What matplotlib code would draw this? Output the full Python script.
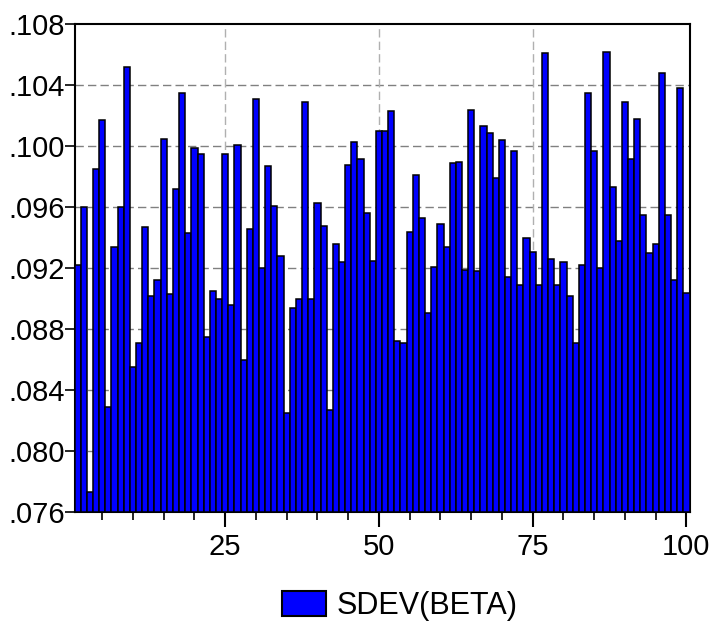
import matplotlib
matplotlib.use("Agg")
import matplotlib.pyplot as plt
from matplotlib.ticker import FixedLocator, FuncFormatter, MultipleLocator

plt.rcParams['font.family'] = ['Liberation Sans', 'DejaVu Sans']

obs = list(range(1, 101))
sdev_beta = [
    0.0922, 0.0960, 0.0773, 0.0985, 0.1017, 0.0829, 0.0934, 0.0960, 0.1052, 0.0855,
    0.0871, 0.0947, 0.0902, 0.0912, 0.1005, 0.0903, 0.0972, 0.1035, 0.0943, 0.0999,
    0.0995, 0.0875, 0.0905, 0.0900, 0.0995, 0.0896, 0.1001, 0.0860, 0.0946, 0.1031,
    0.0920, 0.0987, 0.0961, 0.0928, 0.0825, 0.0894, 0.0900, 0.1029, 0.0900, 0.0963,
    0.0948, 0.0827, 0.0936, 0.0924, 0.0988, 0.1003, 0.0992, 0.0956, 0.0925, 0.1010,
    0.1010, 0.1023, 0.0872, 0.0871, 0.0944, 0.0981, 0.0953, 0.0891, 0.0921, 0.0949,
    0.0934, 0.0989, 0.0990, 0.0919, 0.1024, 0.0918, 0.1013, 0.1009, 0.0979, 0.1004,
    0.0914, 0.0997, 0.0909, 0.0940, 0.0931, 0.0909, 0.1061, 0.0926, 0.0909, 0.0924,
    0.0902, 0.0871, 0.0922, 0.1035, 0.0997, 0.0920, 0.1062, 0.0973, 0.0938, 0.1029,
    0.0992, 0.1018, 0.0955, 0.0930, 0.0936, 0.1048, 0.0955, 0.0912, 0.1038, 0.0904,
]
y_ticks = [0.076, 0.080, 0.084, 0.088, 0.092, 0.096, 0.100, 0.104, 0.108]
x_major = [25, 50, 75, 100]
series_name = "SDEV(BETA)"

fig = plt.figure(figsize=(7.17, 6.26), dpi=100)
ax = fig.add_axes([74.5 / 717, 1 - 512.3 / 626, 615 / 717, 488 / 626])

base = y_ticks[0]
ax.bar(obs, [v - base for v in sdev_beta], bottom=base, width=1.0,
       color='#0000ff', edgecolor='black', linewidth=1.1, label=series_name,
       zorder=3)

ax.set_xlim(0.5, 100.5)
ax.set_ylim(y_ticks[0], y_ticks[-1])

ax.yaxis.set_major_locator(FixedLocator(y_ticks))
ax.yaxis.set_major_formatter(FuncFormatter(lambda v, p: f"{v:.3f}".lstrip('0')))
ax.xaxis.set_major_locator(FixedLocator(x_major))
ax.xaxis.set_minor_locator(MultipleLocator(5))

ax.tick_params(axis='y', which='major', direction='out', length=7, width=1.2,
               labelsize=21, pad=0)
ax.tick_params(axis='x', which='major', direction='out', length=11, width=1.5,
               labelsize=21, pad=4)
ax.tick_params(axis='x', which='minor', direction='out', length=6, width=1.2)

for s in ax.spines.values():
    s.set_linewidth(1.5)
    s.set_color('black')

for yv in y_ticks[1:-1]:
    ax.axhline(yv, color='#808080', linestyle=(0, (6, 3)), linewidth=1.0, zorder=1)
for xv in x_major[:-1]:
    ax.axvline(xv, color='#b0b0b0', linestyle=(0, (6, 3)), linewidth=1.0, zorder=1)

leg = fig.legend(loc='center', bbox_to_anchor=(400 / 717, 1 - 606 / 626),
                 frameon=False, fontsize=22, handlelength=1.45, handleheight=0.9,
                 handletextpad=0.35)
for h in leg.legend_handles:
    h.set_linewidth(1.5)

fig.savefig("out.png", dpi=100)
